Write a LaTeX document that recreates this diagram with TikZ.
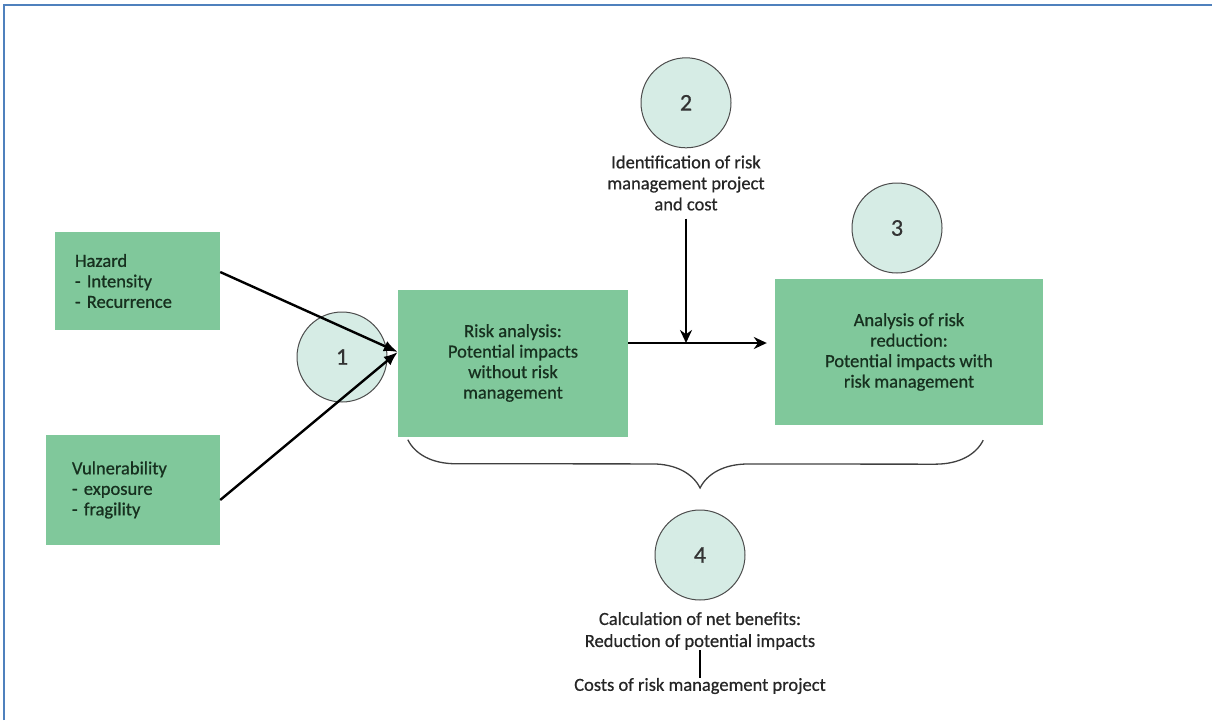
\documentclass[tikz,border=0pt]{standalone}
\usepackage{fontspec}
\setmainfont{Carlito}[FakeBold=0.7]
\usepackage{tikz}
\usetikzlibrary{positioning,calc,arrows.meta,decorations.pathreplacing}
\definecolor{boxgreen}{HTML}{80C89B}
\definecolor{circfill}{HTML}{D6ECE5}
\definecolor{frameblue}{HTML}{4F81BD}
\definecolor{boxtext}{HTML}{17301F}
\tikzstyle{block} = [rectangle, fill=boxgreen, text=boxtext, align=center,
    inner sep=0pt, font=\fontsize{18.5}{20.5}\selectfont]
\tikzstyle{numcirc} = [circle, draw=black!70, fill=circfill, line width=1pt,
    minimum size=90pt, inner sep=0pt, text=black!80, font=\fontsize{24}{26}\selectfont]
\tikzstyle{note} = [align=center, text=black!85, inner sep=0pt,
    font=\fontsize{18.5}{21}\selectfont]
\tikzstyle{line} = [draw, line width=2.4pt, >={Stealth[length=13pt,width=12pt]}]

\begin{document}
\begin{tikzpicture}[x=1pt, y=-1pt]
    \useasboundingbox (0,0) rectangle (1212,720);
    \draw [frameblue, line width=2.5pt] (4,720) -- (4,5) -- (1212,5);
    % Place nodes
    \node [block, minimum width=165pt, minimum height=98pt, text width=125pt, align=left] (hazard) at (137.5,281) {Hazard\\- Intensity\\- Recurrence};
    \node [block, minimum width=174pt, minimum height=110pt, text width=122pt, align=left] (vuln) at (133,490) {Vulnerability\\- exposure\\- fragility};
    \node [numcirc] (num1) at (342,357) {1};
    \node [block, minimum width=230pt, minimum height=147pt] (riskbox) at (513,363) {Risk analysis:\\Potential impacts\\without risk\\management};
    \node [block, minimum width=268pt, minimum height=146pt] (reducbox) at (909,352) {Analysis of risk\\reduction:\\Potential impacts with\\risk management};
    \node [numcirc] (num3) at (897,228) {3};
    \node [note] (projtext) at (686,183) {Identification of risk\\management project\\and cost};
    \node [numcirc, above=7pt of projtext] (num2) {2};
    \node [numcirc] (num4) at (700,555) {4};
    \node [note, font=\fontsize{18.5}{22}\selectfont] (benefits) at (700,631) {Calculation of net benefits:\\Reduction of potential impacts};
    \node [note] (costs) at (700,686) {Costs of risk management project};
    \coordinate (jn) at ($(riskbox.west)+(0,-11)$);
    \coordinate (split) at (686,343);
    % Draw edges
    \path [line, -{Latex[length=14pt,width=11pt]}] ($(hazard.east)+(0,-9)$) -- (jn);
    \path [line, -{Latex[length=14pt,width=11pt]}] ($(vuln.east)+(0,10)$) -- (jn);
    \path [line, ->] (riskbox.east |- split) -- ([xshift=-8pt]reducbox.west |- split);
    \path [line, ->, shorten <=8pt] (projtext.south) -- (split);
    \draw [line width=1.5pt] (benefits.south) -- (costs.north);
    % brace under both analyses
    \draw [decorate, decoration={brace, mirror, amplitude=48pt, aspect=0.508},
        line width=1.3pt, black!75] ($(riskbox.south west)+(10,3)$) -- ($(reducbox.south east)+(-60,15)$);
\end{tikzpicture}
\end{document}
